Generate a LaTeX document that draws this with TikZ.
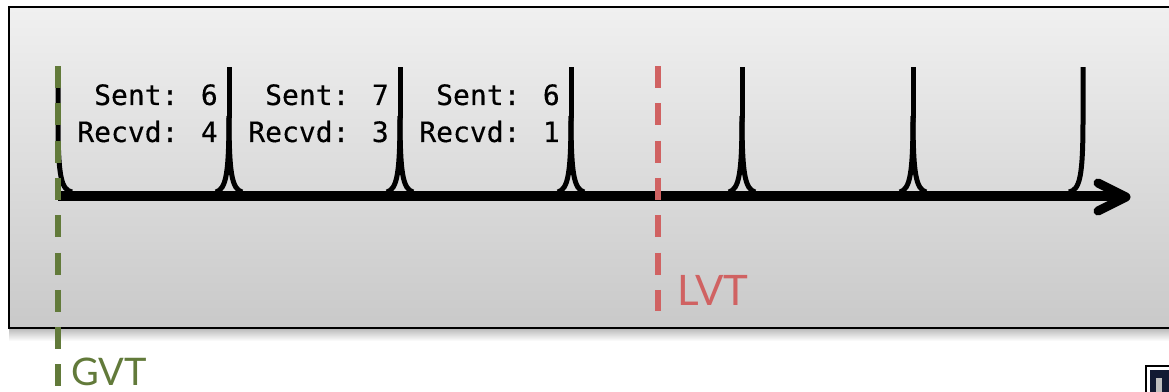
\documentclass[tikz,border=0pt]{standalone}
\usepackage{fontspec}
\setmainfont{Lato}
\newfontfamily\codefont[FakeBold=0.35]{DejaVu Sans Mono}
\definecolor{gvtgreen}{HTML}{627A3A}
\definecolor{lvtred}{HTML}{D06262}
\definecolor{panelTop}{HTML}{F0F0F0}
\definecolor{panelBottom}{HTML}{C9C9C9}
\definecolor{logoNavy}{HTML}{121A33}
\begin{document}
\begin{tikzpicture}[x=1pt,y=-1pt,
  spike/.style={line width=5pt},
  axisline/.style={line width=10pt},
  arrowhead/.style={line width=9pt, line cap=round, line join=round},
  marker/.style={line width=6pt, dash pattern=on 22pt off 15.3pt},
  counts/.style={font=\codefont\fontsize{28}{37}\selectfont, align=right,
                 anchor=north east, inner sep=0pt},
  tag/.style={inner sep=0pt, anchor=base west},
]
\useasboundingbox (0,0) rectangle (1169,391);

% soft shadow under the panel
\fill[top color=black!28, bottom color=white, draw=none] (9,328) rectangle (1180,341);
% panel
\fill[top color=panelTop, bottom color=panelBottom] (9,7) rectangle (1180,328);
\draw[line width=2pt] (9,7) rectangle (1180,328);

% time axis
\coordinate (axisStart) at (58,196);
\coordinate (axisEnd) at (1120,196);
\coordinate (tip) at (1126,197);
\coordinate (armUp) at (1098,183);
\coordinate (armDown) at (1098,211);
\draw[axisline] (axisStart) -- (axisEnd);
\draw[arrowhead] (armUp) -- (tip) -- (armDown);

% first event: right branch only
\draw[spike] (58,67) -- (58,118) .. controls (58,176) and (61,190) .. (72,192);
% interior events
\foreach \x in {229,400,571,742,913}{
  \draw[spike] (\x,67) -- (\x,118);
  \draw[spike] (\x,116) .. controls (\x,174) and (\x+3,189) .. (\x+13,192);
  \draw[spike] (\x,116) .. controls (\x,174) and (\x-3,189) .. (\x-13,192);
}
% last event: left branch only
\draw[spike] (1083,67) -- (1083,118) .. controls (1083,176) and (1080,190) .. (1069,192);

% message counts per interval
\node[counts] (countA) at (218,84) {Sent: 6\\Recvd: 4};
\node[counts] (countB) at (389,84) {Sent: 7\\Recvd: 3};
\node[counts] (countC) at (560,84) {Sent: 6\\Recvd: 1};

% global and local virtual time markers
\coordinate (gvtTop) at (58,66);
\coordinate (gvtBottom) at (58,395);
\coordinate (lvtTop) at (658,66);
\coordinate (lvtBottom) at (658,311);
\draw[marker, gvtgreen] (gvtTop) -- (gvtBottom);
\draw[marker, lvtred] (lvtTop) -- (lvtBottom);
\node[tag, text=gvtgreen, font=\fontsize{38}{38}\selectfont] (gvt) at (71,385) {GVT};
\node[tag, text=lvtred, font=\fontsize{42}{42}\selectfont] (lvt) at (677,305) {LVT};

% corner logo fragment
\fill[black] (1145,365) rectangle (1175,395);
\fill[white] (1147,367) rectangle (1175,395);
\fill[logoNavy] (1149.5,369.5) rectangle (1175,395);
\fill[black!25] (1156,378) rectangle (1162,395);
\end{tikzpicture}
\end{document}
